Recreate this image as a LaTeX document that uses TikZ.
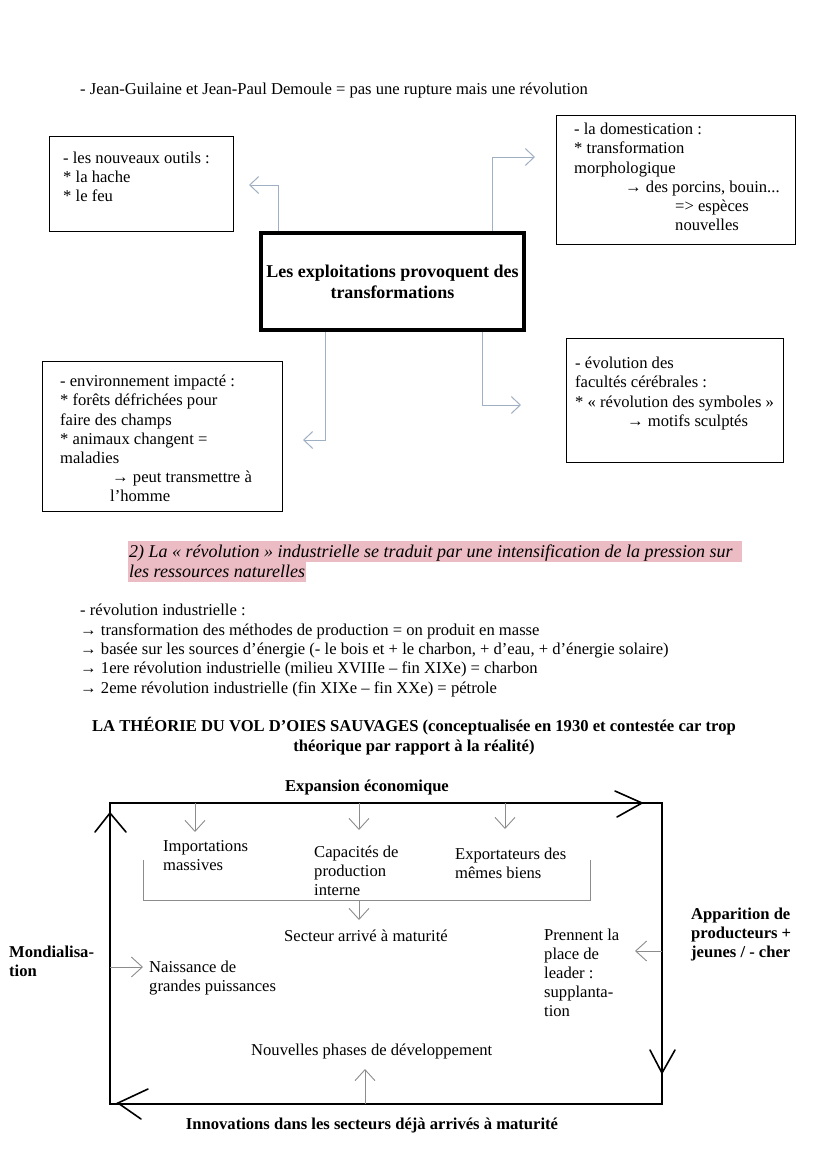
\documentclass[tikz,border=0pt]{standalone}
\usepackage{fontspec}
\setmainfont{Liberation Serif}
\usetikzlibrary{arrows.meta}
\definecolor{conncol}{RGB}{160,176,196}
\definecolor{greycol}{RGB}{140,140,140}
\definecolor{pinkhl}{RGB}{236,188,196}
\newcommand\tl[4]{\node[tx] (#1) at (#2,#3) {#4};}
\newcommand\tlc[4]{\node[txc] (#1) at (#2,#3) {#4};}
\begin{document}
\begin{tikzpicture}[x=1pt,y=-1pt,
  tx/.style={anchor=base west,inner sep=0pt,font=\fontsize{16.6}{19}\selectfont},
  txc/.style={anchor=base,inner sep=0pt,font=\fontsize{16.6}{19}\selectfont},
  boxst/.style={draw,line width=1.6pt,inner sep=0pt},
  conn/.style={draw=conncol,line width=1pt,-{Straight Barb[length=9pt,width=17pt]}},
  garr/.style={draw=greycol,line width=0.9pt,-{Straight Barb[length=11pt,width=20pt]}},
  bigline/.style={line width=1.6pt},
  chev/.style={line width=1.6pt,line cap=round,line join=miter}]
\useasboundingbox (0,0) rectangle (828,1171);
\fill[white] (0,0) rectangle (828,1171);

% ---------- top line
\tl{intro}{80}{94}{- Jean-Guilaine et Jean-Paul Demoule = pas une rupture mais une révolution}

% ---------- boxes
\node[boxst,minimum width=184pt,minimum height=95pt] (boxA) at (141.5,184) {};
\node[boxst,minimum width=239pt,minimum height=129pt] (boxB) at (676,180) {};
\node[draw,line width=4pt,inner sep=0pt,minimum width=263pt,minimum height=97pt] (cbox) at (392.5,281.5) {};
\node[boxst,minimum width=240pt,minimum height=150pt] (boxC) at (162.5,436.5) {};
\node[boxst,minimum width=217pt,minimum height=124pt] (boxD) at (675,400.5) {};

\tl{a1}{63}{163}{- les nouveaux outils :}
\tl{a2}{63}{182}{* la hache}
\tl{a3}{63}{201}{* le feu}

\tl{b1}{574}{134}{- la domestication :}
\tl{b2}{574}{153}{* transformation}
\tl{b3}{574}{173}{morphologique}
\tl{b4}{625}{192}{→ des porcins, bouin...}
\tl{b5}{675}{211}{=> espèces}
\tl{b6}{675}{230}{nouvelles}

\tlc{c1}{392.5}{277}{\fontsize{18}{21}\selectfont\bfseries Les exploitations provoquent des}
\tlc{c2}{392.5}{298}{\fontsize{18}{21}\selectfont\bfseries transformations}

\tl{d1}{60}{386}{- environnement impacté :}
\tl{d2}{60}{405}{* forêts défrichées pour}
\tl{d3}{60}{425}{faire des champs}
\tl{d4}{60}{444}{* animaux changent =}
\tl{d5}{60}{463}{maladies}
\tl{d6}{112}{482}{→ peut transmettre à}
\tl{d7}{110}{501}{l’homme}

\tl{e1}{575}{368}{- évolution des}
\tl{e2}{575}{387}{facultés cérébrales :}
\tl{e3}{575}{407}{* « révolution des symboles »}
\tl{e4}{627}{426}{→ motifs sculptés}

% ---------- connectors of the top diagram
\coordinate (tA) at (249,185);
\coordinate (tB) at (535,157);
\coordinate (tC) at (303,440);
\coordinate (tD) at (521,405);
\draw[conn] ([xshift=19pt]cbox.north west) |- (tA);
\draw[conn] ([xshift=233pt]cbox.north west) |- (tB);
\draw[conn] ([xshift=66pt]cbox.south west) |- (tC);
\draw[conn] ([xshift=223pt]cbox.south west) |- (tD);

% ---------- section 2 heading
\fill[pinkhl] (128,541) rectangle (742,561.5);
\fill[pinkhl] (128,561.5) rectangle (306,582);
\tl{h1}{129}{557}{\fontsize{18}{20}\selectfont\itshape 2) La « révolution » industrielle se traduit par une intensification de la pression sur}
\tl{h2}{129}{577}{\fontsize{18}{20}\selectfont\itshape les ressources naturelles}

\tl{l0}{80}{615}{- révolution industrielle :}
\tl{l1}{80}{635}{→ transformation des méthodes de production = on produit en masse}
\tl{l2}{80}{654}{→ basée sur les sources d’énergie (- le bois et + le charbon, + d’eau, + d’énergie solaire)}
\tl{l3}{80}{673}{→ 1ere révolution industrielle (milieu XVIIIe – fin XIXe) = charbon}
\tl{l4}{80}{693}{→ 2eme révolution industrielle (fin XIXe – fin XXe) = pétrole}

\tlc{t1}{414}{731}{\bfseries LA THÉORIE DU VOL D’OIES SAUVAGES (conceptualisée en 1930 et contestée car trop}
\tlc{t2}{414}{751}{\bfseries théorique par rapport à la réalité)}

% ---------- lower cycle diagram
\coordinate (nw) at (110,803);
\coordinate (ne) at (662,803);
\coordinate (se) at (662,1104);
\coordinate (sw) at (110,1104);
\draw[bigline] (nw) -- (ne) -- (se) -- (sw) -- cycle;
\draw[chev] (615,791) -- (642,803) -- (617,817);
\draw[chev] (95,832) -- (110,813) -- (126,832);
\draw[chev] (650,1050) -- (662,1073) -- (675,1050);
\draw[chev] (148,1089) -- (118,1103) -- (141,1119);

\tlc{exp}{367}{791}{\bfseries Expansion économique}
\tlc{inn}{372}{1129}{\bfseries Innovations dans les secteurs déjà arrivés à maturité}
\tl{m1}{9}{957}{\bfseries Mondialisa-}
\tl{m2}{9}{976}{\bfseries tion}
\tl{p1}{691}{919}{\bfseries Apparition de}
\tl{p2}{691}{938}{\bfseries producteurs +}
\tl{p3}{691}{957}{\bfseries jeunes / - cher}

\tl{i1}{163}{851}{Importations}
\tl{i2}{163}{870}{massives}
\tl{k1}{314}{857}{Capacités de}
\tl{k2}{314}{876}{production}
\tl{k3}{314}{895}{interne}
\tl{x1}{455}{859}{Exportateurs des}
\tl{x2}{455}{878}{mêmes biens}
\tl{s1}{284}{941}{Secteur arrivé à maturité}
\tl{n1}{149}{972}{Naissance de}
\tl{n2}{149}{991}{grandes puissances}
\tl{r1}{544}{940}{Prennent la}
\tl{r2}{544}{959}{place de}
\tl{r3}{544}{978}{leader :}
\tl{r4}{544}{997}{supplanta-}
\tl{r5}{544}{1016}{tion}
\tl{np}{251}{1055}{Nouvelles phases de développement}

\coordinate (ta1) at (195,803); \coordinate (ha1) at (195,832);
\coordinate (ta2) at (359,803); \coordinate (ha2) at (359,830);
\coordinate (ta3) at (505,803); \coordinate (ha3) at (505,829);
\draw[garr] (ta1) -- (ha1);
\draw[garr] (ta2) -- (ha2);
\draw[garr] (ta3) -- (ha3);
\coordinate (bl) at (143,860); \coordinate (br) at (590,860);
\coordinate (bm) at (359,900); \coordinate (hm) at (359,920);
\draw[draw=greycol,line width=0.9pt] (bl) |- (bm) -| (br);
\draw[garr] (bm) -- (hm);
\coordinate (lm) at (110,967); \coordinate (hl) at (143,967);
\draw[garr] (lm) -- (hl);
\coordinate (rm) at (662,951); \coordinate (hr) at (635,951);
\draw[garr] (rm) -- (hr);
\coordinate (bt) at (365,1104); \coordinate (hb) at (365,1069);
\draw[garr] (bt) -- (hb);
\end{tikzpicture}
\end{document}
